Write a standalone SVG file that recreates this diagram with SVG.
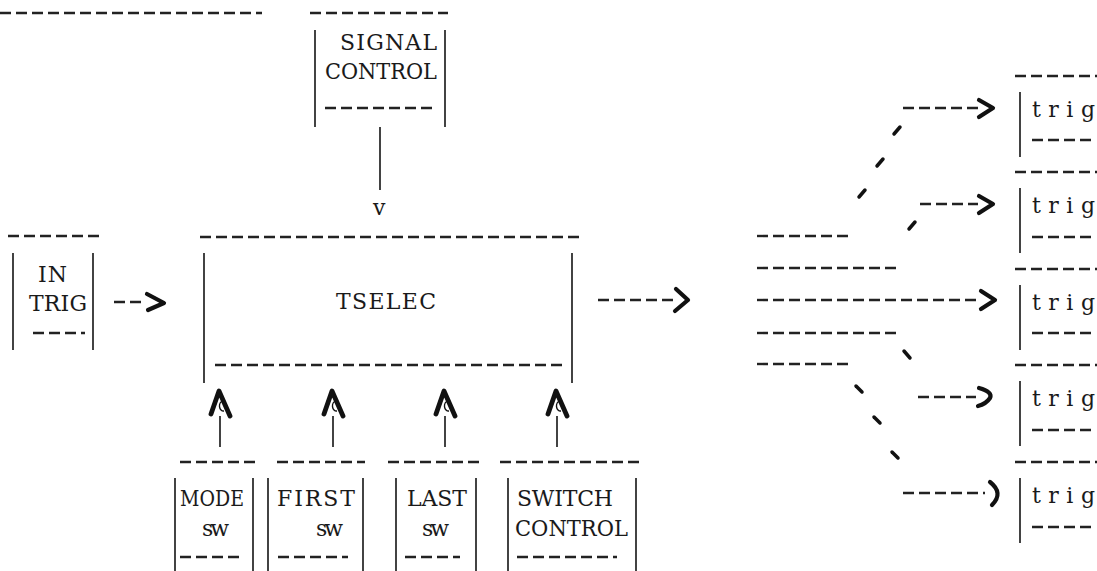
<svg xmlns="http://www.w3.org/2000/svg" width="1097" height="571" viewBox="0 0 1097 571">
<style>
.t{font-family:"DejaVu Serif","Liberation Serif",serif;font-size:22px;fill:#1a1a1a}
.d{stroke:#222;stroke-width:2.4;stroke-dasharray:11 5;fill:none}
.v{stroke:#222;stroke-width:1.7;fill:none}
.ah{stroke:#111;stroke-width:4.2;fill:none;stroke-linecap:round;stroke-linejoin:round}
.up{stroke:#111;stroke-width:4.8;fill:none;stroke-linecap:round;stroke-linejoin:round}
.tk{stroke:#111;stroke-width:3.5;stroke-linecap:round}
.arc{stroke:#111;stroke-width:1.4;fill:none}
</style>
<rect width="1097" height="571" fill="#fff"/>
<line class="d" x1="0" y1="13" x2="262" y2="13"/>

<g id="signal-control">
<line class="d" x1="310" y1="13" x2="448" y2="13"/>
<line class="v" x1="315" y1="30" x2="315" y2="127"/>
<line class="v" x1="445" y1="30" x2="445" y2="127"/>
<text class="t" x="340" y="50" textLength="97" lengthAdjust="spacing">SIGNAL</text>
<text class="t" x="325" y="79" textLength="112" lengthAdjust="spacingAndGlyphs">CONTROL</text>
<line class="d" x1="325" y1="108" x2="437" y2="108"/>
</g>

<g id="in-trig">
<line class="d" x1="8" y1="236" x2="100" y2="236"/>
<line class="v" x1="13" y1="253" x2="13" y2="350"/>
<line class="v" x1="93" y1="253" x2="93" y2="350"/>
<text class="t" x="38" y="282" textLength="29" lengthAdjust="spacing">IN</text>
<text class="t" x="29" y="311" textLength="58" lengthAdjust="spacing">TRIG</text>
<line class="d" x1="33" y1="333" x2="85" y2="333"/>
</g>

<g id="tselec">
<line class="d" x1="200" y1="237" x2="580" y2="237"/>
<line class="v" x1="204" y1="253" x2="204" y2="383"/>
<line class="v" x1="572" y1="253" x2="572" y2="383"/>
<text class="t" x="336" y="309" textLength="100" lengthAdjust="spacing">TSELEC</text>
<line class="d" x1="215" y1="365" x2="563" y2="365"/>
</g>

<g id="mode-sw">
<line class="d" x1="180" y1="462" x2="258" y2="462"/>
<line class="v" x1="175" y1="478" x2="175" y2="571"/>
<line class="v" x1="253" y1="478" x2="253" y2="571"/>
<text class="t" x="180" y="506" textLength="64" lengthAdjust="spacingAndGlyphs">MODE</text>
<text class="t" x="202" y="536" textLength="27" lengthAdjust="spacing">sw</text>
<line class="d" x1="180" y1="557" x2="243" y2="557"/>
</g>

<g id="first-sw">
<line class="d" x1="277" y1="462" x2="365" y2="462"/>
<line class="v" x1="268" y1="478" x2="268" y2="571"/>
<line class="v" x1="363" y1="478" x2="363" y2="571"/>
<text class="t" x="277" y="506" textLength="78" lengthAdjust="spacing">FIRST</text>
<text class="t" x="316" y="536" textLength="27" lengthAdjust="spacing">sw</text>
<line class="d" x1="278" y1="557" x2="348" y2="557"/>
</g>

<g id="last-sw">
<line class="d" x1="388" y1="462" x2="482" y2="462"/>
<line class="v" x1="396" y1="478" x2="396" y2="571"/>
<line class="v" x1="476" y1="478" x2="476" y2="571"/>
<text class="t" x="407" y="506" textLength="60" lengthAdjust="spacing">LAST</text>
<text class="t" x="422" y="536" textLength="27" lengthAdjust="spacing">sw</text>
<line class="d" x1="405" y1="557" x2="460" y2="557"/>
</g>

<g id="switch-control">
<line class="d" x1="500" y1="462" x2="643" y2="462"/>
<line class="v" x1="508" y1="478" x2="508" y2="571"/>
<line class="v" x1="636" y1="478" x2="636" y2="571"/>
<text class="t" x="517" y="506" textLength="96" lengthAdjust="spacing">SWITCH</text>
<text class="t" x="515" y="536" textLength="113" lengthAdjust="spacingAndGlyphs">CONTROL</text>
<line class="d" x1="517" y1="557" x2="617" y2="557"/>
</g>

<g id="trig-1">
<line class="d" x1="1015" y1="76" x2="1097" y2="76"/>
<line class="v" x1="1020" y1="92" x2="1020" y2="157"/>
<text class="t" x="1032" y="117" textLength="63" lengthAdjust="spacing">trig</text>
<line class="d" x1="1032" y1="140" x2="1095" y2="140"/>
</g>
<g id="trig-2">
<line class="d" x1="1015" y1="172" x2="1097" y2="172"/>
<line class="v" x1="1020" y1="188" x2="1020" y2="253"/>
<text class="t" x="1032" y="213" textLength="63" lengthAdjust="spacing">trig</text>
<line class="d" x1="1032" y1="237" x2="1095" y2="237"/>
</g>
<g id="trig-3">
<line class="d" x1="1015" y1="269" x2="1097" y2="269"/>
<line class="v" x1="1020" y1="285" x2="1020" y2="350"/>
<text class="t" x="1032" y="310" textLength="63" lengthAdjust="spacing">trig</text>
<line class="d" x1="1032" y1="333" x2="1095" y2="333"/>
</g>
<g id="trig-4">
<line class="d" x1="1015" y1="365" x2="1097" y2="365"/>
<line class="v" x1="1020" y1="381" x2="1020" y2="446"/>
<text class="t" x="1032" y="406" textLength="63" lengthAdjust="spacing">trig</text>
<line class="d" x1="1032" y1="430" x2="1095" y2="430"/>
</g>
<g id="trig-5">
<line class="d" x1="1015" y1="462" x2="1097" y2="462"/>
<line class="v" x1="1020" y1="478" x2="1020" y2="543"/>
<text class="t" x="1032" y="503" textLength="63" lengthAdjust="spacing">trig</text>
<line class="d" x1="1032" y1="527" x2="1095" y2="527"/>
</g>

<g id="connectors">
<line class="v" x1="380" y1="127" x2="380" y2="190"/>
<text class="t" x="373" y="215" textLength="14" lengthAdjust="spacing">v</text>
<line class="d" x1="114" y1="302" x2="146" y2="302"/>
<path class="ah" d="M147 294 L164 303 L148 310"/>
<line class="d" x1="598" y1="300" x2="674" y2="300"/>
<path class="ah" d="M676 289 L688 300 L675 311"/>
<line class="v" x1="220" y1="416" x2="220" y2="447"/>
<path class="up" d="M211 414 L219 391 L230 416"/>
<path class="arc" d="M223 401 A4 5 0 1 0 224 411"/>
<line class="v" x1="333" y1="416" x2="333" y2="447"/>
<path class="up" d="M324 414 L332 391 L343 416"/>
<path class="arc" d="M336 401 A4 5 0 1 0 337 411"/>
<line class="v" x1="445" y1="416" x2="445" y2="447"/>
<path class="up" d="M436 414 L444 391 L455 416"/>
<path class="arc" d="M448 401 A4 5 0 1 0 449 411"/>
<line class="v" x1="557" y1="416" x2="557" y2="447"/>
<path class="up" d="M548 414 L556 391 L567 416"/>
<path class="arc" d="M560 401 A4 5 0 1 0 561 411"/>
<line class="d" x1="757" y1="236" x2="851" y2="236"/>
<line class="d" x1="757" y1="268" x2="900" y2="268"/>
<line class="d" x1="757" y1="300" x2="980" y2="300"/>
<path class="ah" d="M981 291 L995 300 L981 309"/>
<line class="d" x1="757" y1="333" x2="900" y2="333"/>
<line class="d" x1="757" y1="364" x2="851" y2="364"/>
<line class="tk" x1="859" y1="197" x2="865" y2="190"/>
<line class="tk" x1="877" y1="166" x2="883" y2="159"/>
<line class="tk" x1="894" y1="134" x2="900" y2="127"/>
<line class="tk" x1="909" y1="229" x2="915" y2="222"/>
<line class="tk" x1="904" y1="351" x2="910" y2="358"/>
<line class="tk" x1="856" y1="386" x2="862" y2="392"/>
<line class="tk" x1="874" y1="417" x2="880" y2="423"/>
<line class="tk" x1="892" y1="452" x2="898" y2="458"/>
<line class="d" x1="903" y1="108" x2="978" y2="108"/>
<path class="ah" d="M979 100 L993 108 L979 117"/>
<line class="d" x1="920" y1="204" x2="978" y2="204"/>
<path class="ah" d="M979 196 L993 204 L979 213"/>
<line class="d" x1="918" y1="397" x2="976" y2="397"/>
<path class="ah" d="M979 388 Q993 392 990 398 Q986 404 978 406"/>
<line class="d" x1="903" y1="493" x2="985" y2="493"/>
<path class="ah" d="M990 482 Q1004 493 992 505"/>
</g>
</svg>
